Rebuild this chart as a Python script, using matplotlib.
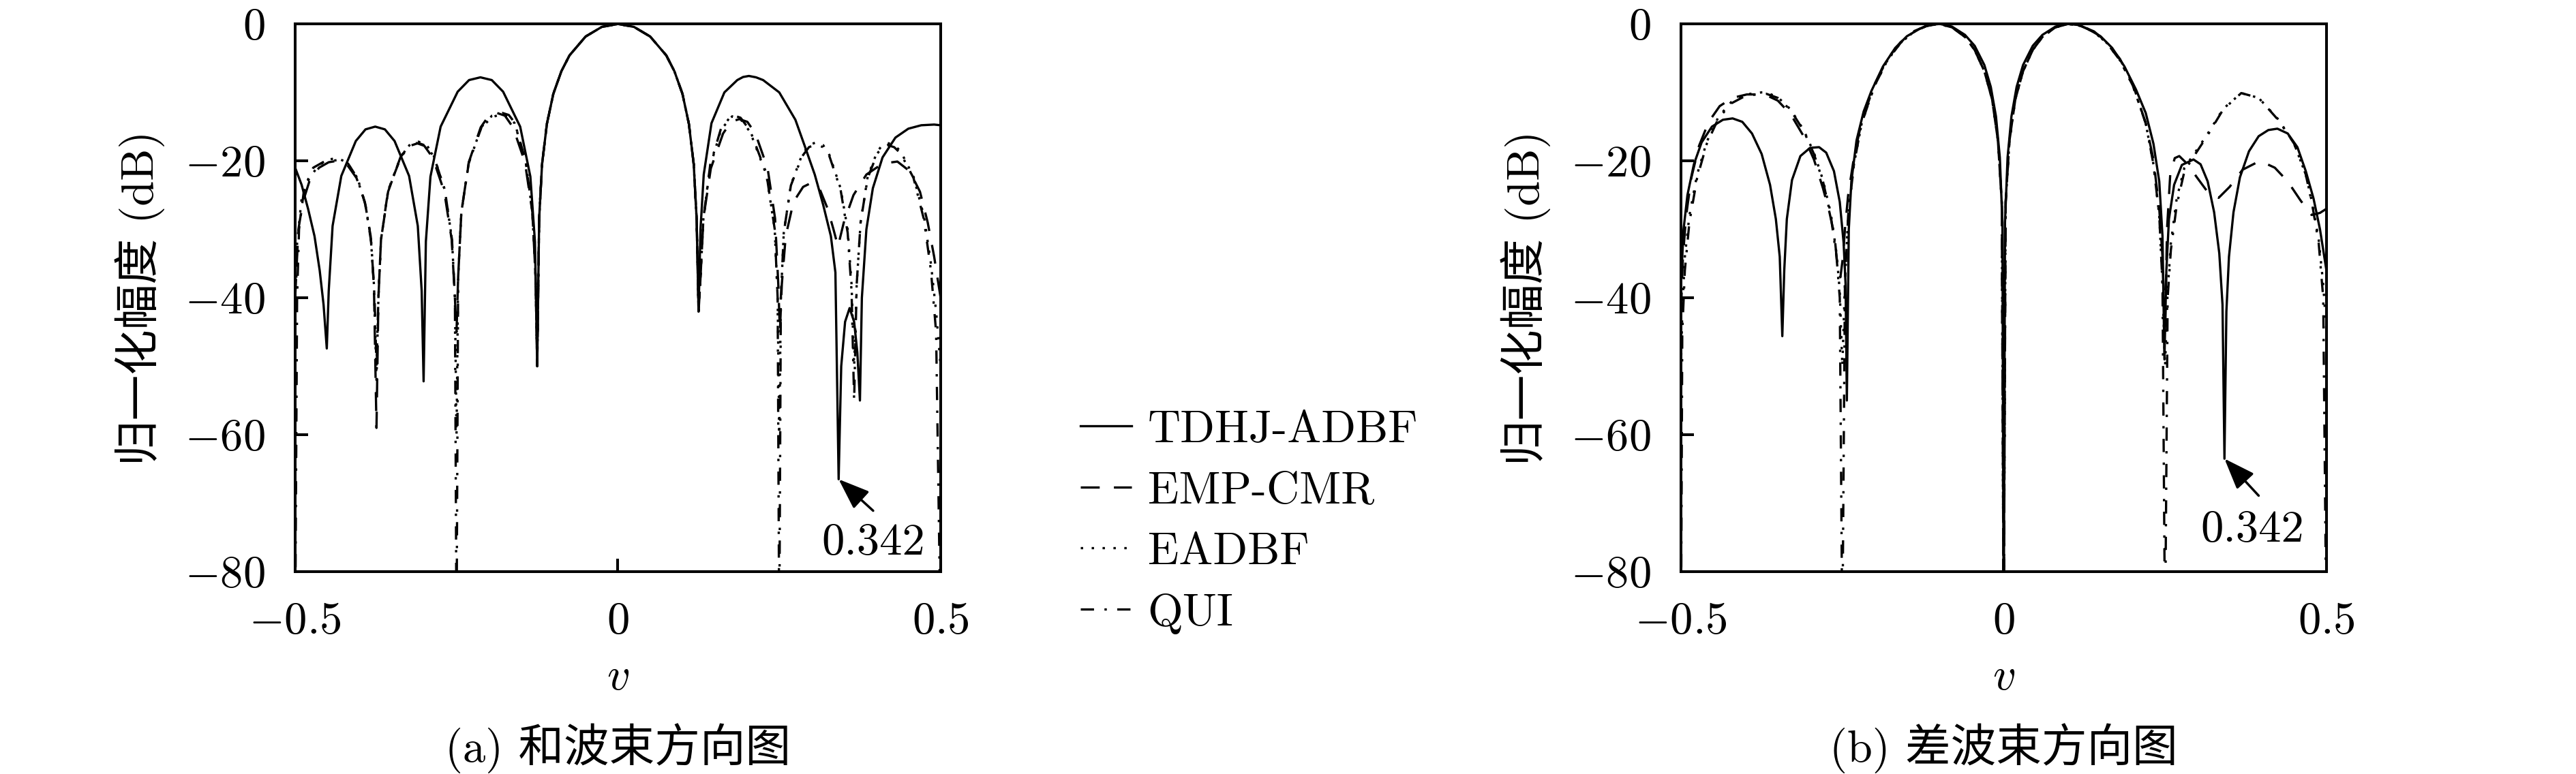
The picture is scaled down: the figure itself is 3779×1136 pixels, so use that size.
import matplotlib
matplotlib.use('Agg')
import matplotlib.pyplot as plt

plt.rcParams.update({
    "font.family": ["cmr10", "Noto Sans CJK SC"],
    "mathtext.fontset": "cm",
    "axes.formatter.use_mathtext": True,
    "font.size": 48,
    "axes.linewidth": 2.9,
    "lines.scale_dashes": False,
})

# ---- (a) sum beam pattern: v, dB ----
main_v = [-0.122, -0.1175, -0.11, -0.1, -0.0875, -0.075, -0.05, -0.025, 0.0,
          0.025, 0.05, 0.075, 0.0875, 0.1, 0.11, 0.1175, 0.122]
main_db = [-28.5, -20.5, -14.6, -10.2, -6.9, -4.6, -1.84, -0.44, 0.0,
           -0.44, -1.84, -4.6, -6.9, -10.2, -14.6, -20.5, -28.5]

sum_tdhj_v = ([-0.5, -0.49, -0.48, -0.47, -0.462, -0.456, -0.451,
               -0.448, -0.442, -0.4285, -0.406, -0.391, -0.376, -0.361, -0.346, -0.3235, -0.31, -0.304, -0.301,
               -0.2975, -0.2904, -0.2746, -0.2482, -0.2306, -0.213, -0.1954, -0.1778, -0.1514, -0.1356, -0.1285,
               -0.125] + main_v +
              [0.125, 0.128, 0.133, 0.145, 0.165, 0.185, 0.194, 0.203, 0.214, 0.225, 0.25, 0.275, 0.289, 0.305,
               0.318, 0.33, 0.337, 0.342,
               0.346, 0.352, 0.359, 0.366, 0.371, 0.375,
               0.378, 0.385, 0.395, 0.41, 0.43, 0.45, 0.47, 0.49, 0.5])
sum_tdhj_db = ([-21, -23.5, -27, -31, -36, -41, -47.4,
                -39, -29.5, -22.2, -17.1, -15.4, -15.0, -15.4, -17.1, -22.2, -29.5, -39, -52.2,
                -31.8, -22.3, -15.0, -9.9, -8.2, -7.8, -8.2, -9.9, -15.0, -22.3, -31.8,
                -50] + main_db +
               [-42, -30, -22, -14.5, -10, -8.2, -7.75, -7.6, -7.8, -8.2, -10, -14, -17.7, -22,
                -26.4, -31, -36.3, -66.5,
                -50, -43.5, -41.5, -43.5, -48, -55,
                -40, -30, -24, -19.5, -16.6, -15.3, -14.8, -14.7, -14.8])

sum_emp_v = ([-0.5, -0.495, -0.488, -0.478, -0.463, -0.448, -0.435, -0.42, -0.405, -0.392, -0.383, -0.378, -0.374,
              -0.371, -0.367, -0.356, -0.337, -0.324, -0.312, -0.3, -0.287, -0.269, -0.2575, -0.2525, -0.25,
              -0.2475, -0.2425, -0.231, -0.2125, -0.2, -0.1875, -0.175, -0.1625, -0.144, -0.1325, -0.1275,
              -0.125] + main_v +
             [0.125, 0.1275, 0.1325, 0.144, 0.163, 0.1754, 0.188, 0.2006, 0.213, 0.232, 0.2435, 0.2485, 0.251,
              0.254, 0.26, 0.272, 0.287, 0.30, 0.313, 0.325, 0.334, 0.341,
              0.35, 0.365, 0.385, 0.41, 0.433, 0.452, 0.468, 0.48, 0.49, 0.5])
sum_emp_db = ([-40, -30, -26, -23, -21, -20.2, -20.0, -20.5, -22.5, -26, -31, -38, -59,
               -40, -31.5, -24.5, -19.5, -17.8, -17.4, -17.8, -19.5, -24.5, -31.5, -40, -45,
               -37, -27.5, -20.2, -15.1, -13.4, -13.0, -13.4, -15.1, -20.2, -27.5, -37,
               -50] + main_db +
              [-42, -38, -28.4, -21.1, -16, -14.3, -13.9, -14.3, -16, -21.1, -28.4, -38, -45,
               -38, -31, -26, -23.8, -23.2, -24.2, -27, -30, -32.5,
               -29, -25, -22, -20.4, -20.1, -21.5, -24.5, -29, -34, -40])

sum_eadbf_v = ([-0.5, -0.497, -0.49, -0.478, -0.463, -0.448, -0.435, -0.42, -0.405, -0.392, -0.383, -0.378, -0.374,
                -0.371, -0.367, -0.356, -0.336, -0.322, -0.309, -0.297, -0.285, -0.268, -0.257, -0.2525, -0.25,
                -0.2475, -0.2425, -0.231, -0.212, -0.195, -0.18, -0.17, -0.16, -0.143, -0.1325, -0.1275,
                -0.125] + main_v +
               [0.125, 0.1275, 0.1325, 0.143, 0.16, 0.177, 0.19, 0.205, 0.23, 0.243, 0.2475, 0.25,
                0.2525, 0.257, 0.268, 0.285, 0.296, 0.307, 0.318, 0.328, 0.345, 0.356, 0.362, 0.366,
                0.37, 0.376, 0.387, 0.402, 0.41, 0.418, 0.428, 0.438, 0.458, 0.474, 0.485, 0.493, 0.5])
sum_eadbf_db = ([-45, -32, -25.5, -22.5, -20.6, -19.8, -19.6, -20.2, -22.3, -26, -31, -38, -52,
                 -40, -31.5, -24.3, -19.3, -17.6, -17.2, -17.6, -19.3, -24.3, -31.5, -40, -60,
                 -37, -27.5, -20.3, -15.2, -13.6, -13.2, -13.5, -14.5, -20, -27.5, -37,
                 -50] + main_db +
                [-42, -38, -28.4, -20.8, -15.4, -13.5, -13.9, -15.8, -22, -30, -40, -60,
                 -40, -30.5, -23.5, -19.2, -17.7, -17.3, -17.7, -19.2, -24, -30, -38, -50,
                 -38, -29, -22.3, -18.6, -17.7, -17.4, -17.7, -18.6, -22.3, -28, -35, -42, -50])

sum_qui_v = ([-0.5, -0.497, -0.494, -0.486, -0.472, -0.455, -0.435, -0.418, -0.403, -0.391, -0.382, -0.377, -0.374,
              -0.371, -0.367, -0.356, -0.336, -0.322, -0.309, -0.297, -0.285, -0.268, -0.257, -0.2525, -0.25,
              -0.2475, -0.2425, -0.231, -0.211, -0.195, -0.179, -0.169, -0.16, -0.143, -0.1325, -0.1275,
              -0.125] + main_v +
             [0.125, 0.1275, 0.1325, 0.143, 0.16, 0.177, 0.19, 0.205, 0.23, 0.243, 0.2475, 0.25,
              0.2525, 0.257, 0.268, 0.285, 0.296, 0.307, 0.318, 0.328, 0.345, 0.356, 0.362, 0.366,
              0.37, 0.376, 0.387, 0.402, 0.41, 0.418, 0.428, 0.438, 0.458, 0.474, 0.485, 0.493, 0.5])
sum_qui_db = ([-90, -40, -30, -24, -21, -20.1, -19.9, -20.4, -22.6, -26.5, -32, -40, -50,
               -40, -31.5, -24.3, -19.4, -17.8, -17.4, -17.8, -19.4, -24.3, -31.5, -40, -90,
               -37, -27.5, -20.3, -15.0, -13.4, -13.0, -13.3, -14.4, -20, -27.5, -37,
               -50] + main_db +
              [-42, -38, -28.4, -20.6, -15.2, -13.3, -13.7, -15.6, -21.8, -30, -40, -90,
               -40, -30.5, -23.6, -19.4, -18.0, -17.6, -18.0, -19.4, -24.2, -30.5, -39, -55,
               -38, -29, -22.5, -18.9, -18.0, -17.7, -18.0, -18.9, -22.5, -28.5, -36, -45, -90])

# ---- (b) difference beam pattern: v, dB ----
dif_tdhj_v = [-0.5, -0.496, -0.49, -0.48, -0.468, -0.452, -0.435, -0.42, -0.405, -0.39, -0.375, -0.362, -0.353, -0.347, -0.343,
              -0.34, -0.336, -0.328, -0.315, -0.3, -0.286, -0.275, -0.263, -0.254, -0.248, -0.245, -0.243,
              -0.24, -0.236, -0.228, -0.217, -0.205, -0.187, -0.168, -0.15, -0.13, -0.115, -0.099, -0.08, -0.06,
              -0.045, -0.03, -0.02, -0.012, -0.006, -0.002, 0.0,
              0.002, 0.006, 0.012, 0.02, 0.03, 0.045, 0.06, 0.08, 0.099, 0.115, 0.13, 0.15, 0.168, 0.187,
              0.205, 0.22, 0.232, 0.241, 0.246, 0.249,
              0.252, 0.256, 0.264, 0.276, 0.294, 0.305, 0.316, 0.326, 0.334, 0.339, 0.342,
              0.345, 0.349, 0.356, 0.366, 0.38, 0.395, 0.41, 0.424, 0.44, 0.455, 0.468, 0.48, 0.49, 0.5]
dif_tdhj_db = [-38, -30, -25, -20.5, -17.3, -15, -14, -13.8, -14.3, -16, -19, -23.5, -28.5, -34, -45.6,
               -36, -28.5, -22.8, -19.3, -18.1, -18.0, -18.8, -21.5, -26, -32, -38, -55,
               -30, -23, -17, -12.8, -9.8, -6.2, -3.5, -1.8, -0.7, -0.15, 0.0, -0.4, -1.6,
               -3.2, -6, -9.2, -13.5, -19.5, -29, -90,
               -29, -19.5, -13.5, -9.2, -6, -3.2, -1.6, -0.4, 0.0, -0.15, -0.7, -1.8, -3.5, -6.2,
               -9.6, -13, -17.5, -23, -31, -49,
               -36, -28.5, -23.5, -20.6, -19.8, -20.5, -23, -27.5, -33.5, -41, -63.5,
               -42, -34, -27.5, -22.4, -18.6, -16.4, -15.5, -15.3, -16, -18, -21.5, -25.5, -30, -36]

dif_emp_v = [-0.5, -0.497, -0.492, -0.484, -0.472, -0.457, -0.44, -0.42, -0.398, -0.375, -0.368, -0.35, -0.33,
             -0.31, -0.294, -0.28, -0.27, -0.262, -0.257, -0.253, -0.249, -0.246,
             -0.241, -0.232, -0.22, -0.2, -0.18, -0.16, -0.14, -0.12, -0.1, -0.08, -0.06, -0.045, -0.03,
             -0.018, -0.009, -0.003, 0.0,
             0.003, 0.009, 0.018, 0.03, 0.045, 0.06, 0.08, 0.1, 0.12, 0.14, 0.16, 0.18, 0.2, 0.22, 0.232,
             0.241, 0.246, 0.25,
             0.253, 0.258, 0.265, 0.272, 0.285, 0.3, 0.318, 0.333, 0.35, 0.37, 0.397, 0.42, 0.44, 0.46,
             0.477, 0.49, 0.5]
dif_emp_db = [-42, -34, -28, -22.5, -17.8, -14.3, -12.0, -10.8, -10.3, -10.3, -10.4, -11.2, -13.2,
              -16.4, -19.8, -24, -27.5, -31, -36, -37, -34, -30,
              -25, -19.5, -14.2, -8.8, -5.1, -2.7, -1.1, -0.3, 0.0, -0.5, -1.9, -3.8, -6.9,
              -11, -17, -26, -90,
              -26, -17, -11, -6.9, -3.8, -1.9, -0.5, 0.0, -0.3, -1.1, -2.7, -5.1, -8.8, -14.5, -19.8,
              -27, -34, -45,
              -30, -22, -19.6, -19.3, -20.5, -22.5, -24.8, -25.4, -23.8, -21.3, -20.0, -21, -23, -25.8,
              -27.9, -27.6, -27]

dif_eadbf_v = [-0.5, -0.498, -0.494, -0.487, -0.475, -0.46, -0.442, -0.422, -0.4, -0.375, -0.368, -0.35, -0.33,
               -0.31, -0.294, -0.28, -0.268, -0.259, -0.254, -0.25,
               -0.246, -0.241, -0.232, -0.22, -0.2, -0.18, -0.16, -0.14, -0.12, -0.1, -0.08, -0.06, -0.045, -0.03,
               -0.018, -0.009, -0.003, 0.0,
               0.003, 0.009, 0.018, 0.03, 0.045, 0.06, 0.08, 0.1, 0.12, 0.14, 0.16, 0.18, 0.2, 0.22, 0.232,
               0.241, 0.246, 0.25,
               0.254, 0.259, 0.268, 0.28, 0.292, 0.315, 0.34, 0.368, 0.395, 0.426, 0.45, 0.468, 0.478, 0.488,
               0.495, 0.5]
dif_eadbf_db = [-50, -42, -34, -28, -22, -17.2, -13.6, -11.4, -10.3, -10.0, -10.0, -10.7, -12.5,
                -15.5, -18.8, -22.8, -27.6, -33.5, -39, -50,
                -38, -28, -20.5, -14.5, -9, -5.3, -2.8, -1.2, -0.3, 0.0, -0.5, -1.9, -3.8, -6.9,
                -11, -17, -26, -90,
                -26, -17, -11, -6.9, -3.8, -1.9, -0.5, 0.0, -0.3, -1.2, -2.8, -5.3, -9, -14.5, -20.5,
                -28, -38, -50,
                -39, -32, -25.5, -21, -19.4, -16.2, -12.4, -10.1, -10.8, -14.0, -17.5, -22, -26.2, -31.5,
                -38, -45]

dif_qui_v = [-0.5, -0.498, -0.494, -0.487, -0.475, -0.46, -0.442, -0.422, -0.4, -0.375, -0.368, -0.35, -0.33,
             -0.31, -0.294, -0.28, -0.268, -0.259, -0.254, -0.25,
             -0.246, -0.241, -0.232, -0.22, -0.2, -0.18, -0.16, -0.14, -0.12, -0.1, -0.08, -0.06, -0.045, -0.03,
             -0.018, -0.009, -0.003, 0.0,
             0.003, 0.009, 0.018, 0.03, 0.045, 0.06, 0.08, 0.1, 0.12, 0.14, 0.16, 0.18, 0.2, 0.22, 0.232,
             0.241, 0.246, 0.25,
             0.254, 0.259, 0.268, 0.28, 0.292, 0.315, 0.34, 0.368, 0.395, 0.426, 0.45, 0.468, 0.478, 0.488,
             0.495, 0.5]
dif_qui_db = [-90, -45, -36, -29, -22.5, -17.5, -13.8, -11.6, -10.5, -10.2, -10.2, -10.8, -12.6,
              -15.6, -19, -23, -28, -34, -40, -90,
              -38, -28, -20.5, -14.5, -9, -5.3, -2.8, -1.2, -0.3, 0.0, -0.5, -1.9, -3.8, -6.9,
              -11, -17, -26, -90,
              -26, -17, -11, -6.9, -3.8, -1.9, -0.5, 0.0, -0.3, -1.2, -2.8, -5.3, -9, -14.5, -20.5,
              -28, -38, -90,
              -40, -33, -26.5, -21.5, -19.7, -16.4, -12.5, -10.1, -10.8, -14.1, -17.5, -22, -26.4, -32,
              -40, -90]

labels = ["TDHJ-ADBF", "EMP-CMR", "EADBF", "QUI"]
captions = ["(a) 和波束方向图", "(b) 差波束方向图"]
null_pos = 0.342
xticks = [-0.5, 0, 0.5]
xtick_labels = ["$-0.5$", "$0$", "$0.5$"]
yticks = [0, -20, -40, -60, -80]

styles = [
    dict(linestyle="-"),
    dict(linestyle=(0, (20, 15))),
    dict(linestyle=(0, (2.5, 9))),
    dict(linestyle=(0, (14, 11, 2.5, 11))),
]

panels = [
    [(sum_tdhj_v, sum_tdhj_db), (sum_emp_v, sum_emp_db), (sum_eadbf_v, sum_eadbf_db), (sum_qui_v, sum_qui_db)],
    [(dif_tdhj_v, dif_tdhj_db), (dif_emp_v, dif_emp_db), (dif_eadbf_v, dif_eadbf_db), (dif_qui_v, dif_qui_db)],
]
# arrow tip y, arrow tail (v, dB), text centre (v, dB)
annots = [
    (-66.5, (0.3955, -71.1), (0.3955, -75.8)),
    (-63.5, (0.395, -68.9), (0.385, -73.9)),
]

fig = plt.figure(figsize=(37.8, 11.36), dpi=100)
ax_lefts = [433 / 3780, 2466 / 3780]
handles = []
for k in range(2):
    ax = fig.add_axes([ax_lefts[k], 0.2614, 0.2505, 0.7077])
    for i, (v, db) in enumerate(panels[k]):
        ln, = ax.plot(v, db, color="black", lw=2.4, solid_joinstyle="round", **styles[i], label=labels[i])
        if k == 0:
            handles.append(ln)
    ax.set_xlim(-0.5, 0.5)
    ax.set_ylim(-80, 0)
    ax.set_xticks(xticks, labels=xtick_labels)
    ax.set_yticks(yticks)
    ax.tick_params(direction="in", length=14, width=2.9, pad=32)
    ax.set_xlabel("$v$")
    ax.xaxis.set_label_coords(0.5, -0.194)
    ax.xaxis.label.set_va("center")
    ax.set_ylabel("归一化幅度 (dB)")
    ax.yaxis.set_label_coords(-0.241, 0.5)
    ax.yaxis.label.set_va("center")

    tip_y, tail, txt = annots[k]
    ax.annotate("", xy=(null_pos, tip_y), xytext=tail,
                arrowprops=dict(arrowstyle="-|>,head_length=0.8,head_width=0.3",
                                mutation_scale=35, color="black", lw=2.5,
                                shrinkA=0, shrinkB=0))
    ax.text(txt[0], txt[1], "0.342", ha="center", va="center")

    fig.text(ax_lefts[k] + 0.2505 / 2, 0.0335, captions[k], ha="center", va="center")

fig.legend(handles=handles, loc="center left", bbox_to_anchor=(1585 / 3780, 0.3257),
           frameon=False, handlelength=1.13, handletextpad=0.35, labelspacing=0.45,
           borderpad=0, borderaxespad=0)

fig.savefig("out.png", dpi=100)
